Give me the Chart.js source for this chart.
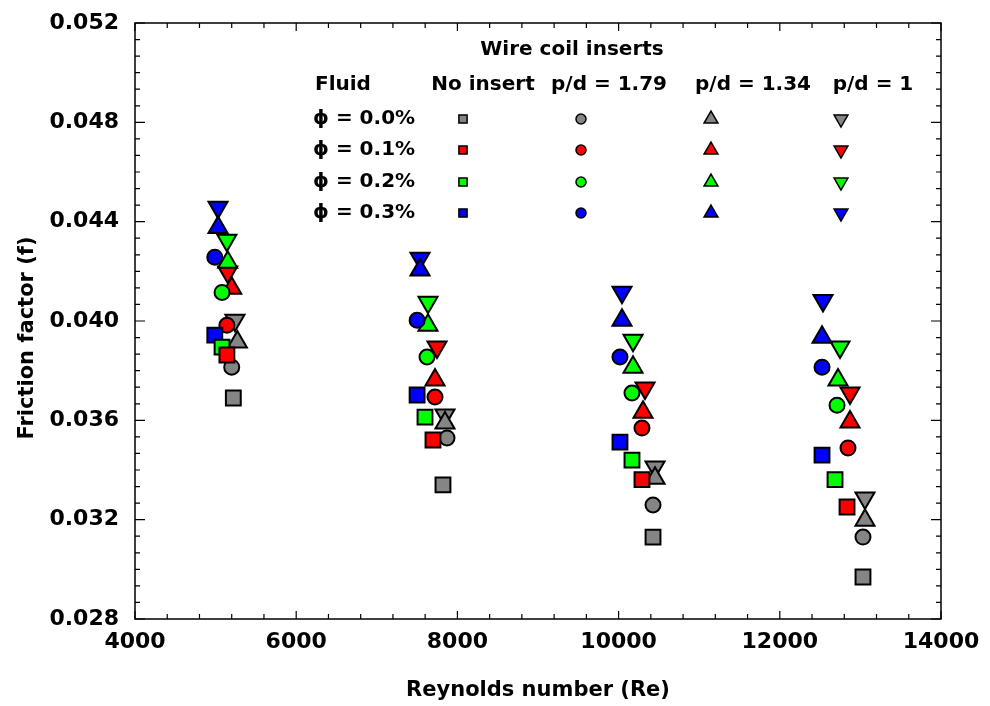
<!DOCTYPE html>
<html>
<head>
<meta charset="utf-8">
<title>Friction factor vs Reynolds number</title>
<script src="https://cdn.jsdelivr.net/npm/chart.js@4.4.1/dist/chart.umd.min.js"></script>
<style>
  html, body { margin: 0; padding: 0; background: #fff; }
  #wrap { width: 990px; height: 706px; }
</style>
</head>
<body>
<div id="wrap"><canvas id="chart" width="990" height="706"></canvas></div>
<script>
/* ---- data ---- */
const fluids  = ['ϕ = 0.0%', 'ϕ = 0.1%', 'ϕ = 0.2%', 'ϕ = 0.3%'];
const inserts = ['No insert', 'p/d = 1.79', 'p/d = 1.34', 'p/d = 1'];
const fluidColors = ['#858585', '#ff0000', '#00ff00', '#0000ff'];

const xTicks = [4000, 6000, 8000, 10000, 12000, 14000];
const yTicks = [0.028, 0.032, 0.036, 0.040, 0.044, 0.048, 0.052];

// rows follow fluids (0.0, 0.1, 0.2, 0.3 %)
const noInsertRe = [[5220, 7821, 10427, 13032], [5140, 7697, 10290, 12834], [5080, 7598, 10166, 12685], [4990, 7500, 10017, 12524]];
const noInsertF  = [[0.0369, 0.0334, 0.0313, 0.02969], [0.03863, 0.03521, 0.03361, 0.03251], [0.03895, 0.03613, 0.0344, 0.03361], [0.03943, 0.03702, 0.03512, 0.0346]];

const pd179Re = [[5200, 7871, 10427, 13032], [5140, 7722, 10290, 12846], [5080, 7623, 10166, 12710], [4990, 7500, 10017, 12524]];
const pd179F  = [[0.03814, 0.03529, 0.03259, 0.0313], [0.03983, 0.03694, 0.03569, 0.03489], [0.04115, 0.03855, 0.0371, 0.03661], [0.04257, 0.04003, 0.03855, 0.03814]];

const pd134Re = [[5270, 7846, 10452, 13057], [5200, 7722, 10303, 12871], [5150, 7635, 10179, 12722], [5030, 7536, 10042, 12524]];
const pd134F  = [[0.03915, 0.03589, 0.03367, 0.03198], [0.04132, 0.03762, 0.03633, 0.03593], [0.04237, 0.03983, 0.03814, 0.03762], [0.04377, 0.04205, 0.04003, 0.03935]];

const pd1Re = [[5240, 7846, 10452, 13057], [5150, 7747, 10328, 12871], [5140, 7635, 10179, 12747], [5030, 7536, 10042, 12536]];
const pd1F  = [[0.04003, 0.03621, 0.03412, 0.03287], [0.04197, 0.03895, 0.0373, 0.0371], [0.04325, 0.04076, 0.03922, 0.03895], [0.04458, 0.04253, 0.04116, 0.04083]];

/* ---- marker styles per insert ---- */
const MARKERS = [
  { style: 'rect',     rotation: 0,   radius: 10.5, legendRadius: 5.8 },
  { style: 'circle',   rotation: 0,   radius: 7.5,  legendRadius: 5 },
  { style: 'triangle', rotation: 0,   radius: 11,   legendRadius: 8 },
  { style: 'triangle', rotation: 180, radius: 11,   legendRadius: 8 },
];

const FONT = 'DejaVu Sans';
const seriesRe = [noInsertRe, pd179Re, pd134Re, pd1Re];
const seriesF  = [noInsertF, pd179F, pd134F, pd1F];

const datasets = [];
seriesRe.forEach((reRows, k) => {
  reRows.forEach((reRow, i) => {
    const m = MARKERS[k];
    datasets.push({
      label: inserts[k] + ', ' + fluids[i],
      data: reRow.map((re, j) => ({ x: re, y: seriesF[k][i][j] })),
      pointStyle: m.style,
      rotation: m.rotation,
      pointRadius: m.radius,
      pointHoverRadius: m.radius,
      backgroundColor: fluidColors[i],
      borderColor: '#000',
      borderWidth: 2,
      showLine: false,
    });
  });
});

/* ---- frame, inward ticks, y title and table legend ---- */
const framePlugin = {
  id: 'frame',
  afterDraw(chart) {
    const { ctx, chartArea: a, scales } = chart;
    ctx.save();
    ctx.strokeStyle = '#000';
    ctx.lineWidth = 1.5;
    ctx.strokeRect(a.left, a.top, a.right - a.left, a.bottom - a.top);

    ctx.lineWidth = 1.2;
    ctx.beginPath();
    for (let v = 4000; v <= 14000; v += 400) {
      const px = scales.x.getPixelForValue(v);
      const len = v % 2000 === 0 ? 8 : 5;
      ctx.moveTo(px, a.bottom); ctx.lineTo(px, a.bottom - len);
      ctx.moveTo(px, a.top);    ctx.lineTo(px, a.top + len);
    }
    for (let n = 0; n <= 36; n++) {
      const v = 0.028 + n * 0.004 / 6;
      const py = scales.y.getPixelForValue(v);
      const len = n % 6 === 0 ? 10 : 5;
      ctx.moveTo(a.left, py);  ctx.lineTo(a.left + len, py);
      ctx.moveTo(a.right, py); ctx.lineTo(a.right - len, py);
    }
    ctx.stroke();

    // y axis title, sits a bit below the plot centre in the original
    ctx.fillStyle = '#000';
    ctx.font = 'bold 21px "' + FONT + '"';
    ctx.textAlign = 'center';
    ctx.textBaseline = 'middle';
    ctx.save();
    ctx.translate(28, (a.top + a.bottom) / 2 + 17);
    ctx.rotate(-Math.PI / 2);
    ctx.fillText('Friction factor (f)', 0, 0);
    ctx.restore();

    // legend table
    const L = a.left, T = a.top;
    ctx.font = 'bold 20px "' + FONT + '"';
    ctx.fillText('Wire coil inserts', L + 437, T + 27);
    const colX = [L + 348, L + 474, L + 618, L + 738];
    const markX = [L + 328, L + 446, L + 576, L + 706];
    inserts.forEach((s, k) => ctx.fillText(s, colX[k], T + 62));
    ctx.textAlign = 'left';
    ctx.fillText('Fluid', L + 180, T + 62);
    const rowY = [T + 96, T + 127, T + 159, T + 190];
    fluids.forEach((s, i) => {
      ctx.fillStyle = '#000';
      ctx.fillText(s, L + 178, rowY[i]);
      MARKERS.forEach((m, k) => {
        ctx.fillStyle = fluidColors[i];
        ctx.strokeStyle = '#000';
        ctx.lineWidth = 1.5;
        Chart.helpers.drawPoint(ctx, {
          pointStyle: m.style, rotation: m.rotation,
          radius: m.legendRadius, borderWidth: 1.5,
        }, markX[k], rowY[i]);
      });
    });
    ctx.restore();
  },
};

new Chart(document.getElementById('chart'), {
  type: 'scatter',
  data: { datasets },
  plugins: [framePlugin],
  options: {
    responsive: false,
    animation: false,
    layout: { padding: { left: 0, top: 23, right: 49, bottom: 0 } },
    plugins: { legend: { display: false }, tooltip: { enabled: false } },
    scales: {
      x: {
        type: 'linear', min: 4000, max: 14000,
        afterFit(scale) { scale.height = 87; scale.paddingLeft = 0; scale.paddingRight = 0; },
        afterBuildTicks(scale) { scale.ticks = xTicks.map(v => ({ value: v })); },
        grid: { display: false, drawTicks: false },
        border: { display: false },
        ticks: { padding: 10, color: '#000', font: { family: FONT, weight: 'bold', size: 22 }, callback: v => String(v) },
        title: { display: true, text: 'Reynolds number (Re)', color: '#000', padding: { top: 0, bottom: 3 }, font: { family: FONT, weight: 'bold', size: 21 } },
      },
      y: {
        type: 'linear', min: 0.028, max: 0.052,
        afterFit(scale) { scale.width = 135; scale.paddingTop = 0; scale.paddingBottom = 0; },
        afterBuildTicks(scale) { scale.ticks = yTicks.map(v => ({ value: v })); },
        grid: { display: false, drawTicks: false },
        border: { display: false },
        ticks: { padding: 16, color: '#000', font: { family: FONT, weight: 'bold', size: 22 }, callback: v => v.toFixed(3) },
        title: { display: false },
      },
    },
  },
});
</script>
</body>
</html>
